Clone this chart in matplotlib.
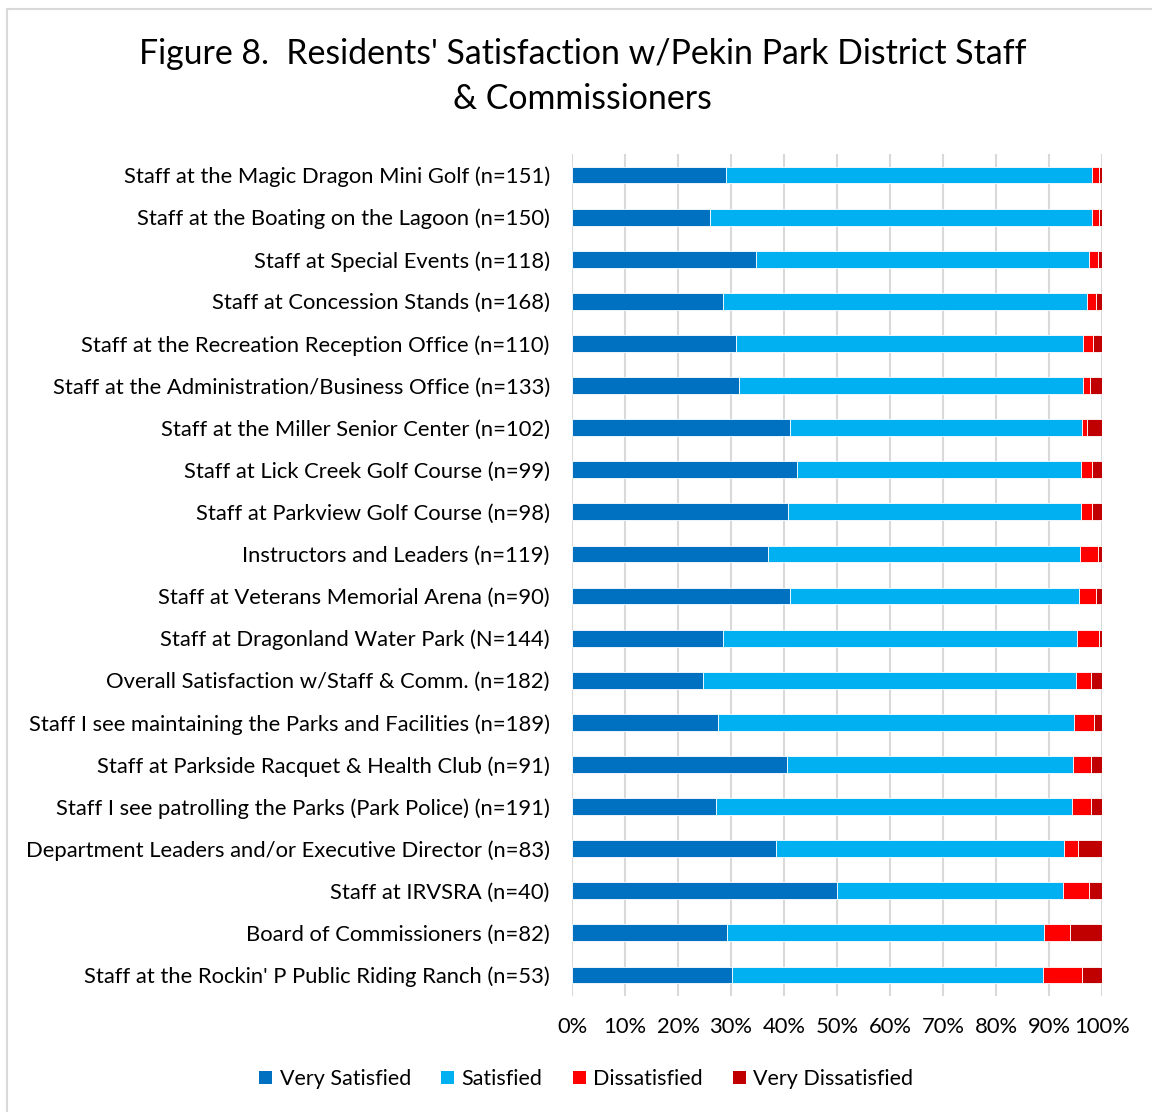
import matplotlib
matplotlib.use("Agg")
import matplotlib.pyplot as plt
from matplotlib.patches import Rectangle, Patch
import numpy as np

categories = [
    "Staff at the Magic Dragon Mini Golf (n=151)",
    "Staff at the Boating on the Lagoon (n=150)",
    "Staff at Special Events (n=118)",
    "Staff at Concession Stands (n=168)",
    "Staff at the Recreation Reception Office (n=110)",
    "Staff at the Administration/Business Office (n=133)",
    "Staff at the Miller Senior Center (n=102)",
    "Staff at Lick Creek Golf Course (n=99)",
    "Staff at Parkview Golf Course (n=98)",
    "Instructors and Leaders (n=119)",
    "Staff at Veterans Memorial Arena (n=90)",
    "Staff at Dragonland Water Park (N=144)",
    "Overall Satisfaction w/Staff & Comm. (n=182)",
    "Staff I see maintaining the Parks and Facilities (n=189)",
    "Staff at Parkside Racquet & Health Club (n=91)",
    "Staff I see patrolling the Parks (Park Police) (n=191)",
    "Department Leaders and/or Executive Director (n=83)",
    "Staff at IRVSRA (n=40)",
    "Board of Commissioners (n=82)",
    "Staff at the Rockin' P Public Riding Ranch (n=53)",
]
very_satisfied = [29.0, 26.0, 34.8, 28.5, 30.9, 31.5, 41.2, 42.5, 40.8, 37.0,
                  41.2, 28.5, 24.8, 27.5, 40.6, 27.2, 38.5, 50.0, 29.3, 30.2]
satisfied = [69.1, 72.1, 62.8, 68.6, 65.6, 64.9, 55.0, 53.6, 55.2, 58.9,
             54.5, 66.7, 70.3, 67.3, 54.0, 67.1, 54.3, 42.6, 59.8, 58.6]
dissatisfied = [1.3, 1.4, 1.6, 1.8, 1.8, 1.3, 1.0, 2.1, 2.1, 3.3,
                3.2, 4.2, 2.9, 3.7, 3.4, 3.7, 2.6, 4.9, 4.9, 7.4]
very_dissatisfied = [0.6, 0.5, 0.8, 1.1, 1.7, 2.3, 2.8, 1.8, 1.9, 0.8,
                     1.1, 0.6, 2.0, 1.5, 2.0, 2.0, 4.6, 2.5, 6.0, 3.8]
series_names = ["Very Satisfied", "Satisfied", "Dissatisfied", "Very Dissatisfied"]
colors = ["#0070C0", "#00B0F0", "#FF0000", "#C00000"]
tick_values = [0, 10, 20, 30, 40, 50, 60, 70, 80, 90, 100]
tick_labels = ["0%", "10%", "20%", "30%", "40%", "50%", "60%", "70%", "80%", "90%", "100%"]
title_line1 = "Figure 8.  Residents' Satisfaction w/Pekin Park District Staff"
title_line2 = "& Commissioners"

plt.rcParams['font.family'] = ['Lato', 'DejaVu Sans']

W, H = 1152, 1112
fig = plt.figure(figsize=(W / 100, H / 100), dpi=100)
ax = fig.add_axes([572 / W, 1 - 996 / H, 530 / W, 842 / H])

data = [very_satisfied, satisfied, dissatisfied, very_dissatisfied]
y = np.arange(len(categories))
left = np.zeros(len(categories))
for vals, c, name in zip(data, colors, series_names):
    vals = np.array(vals)
    ax.barh(y, vals, left=left, height=0.4, color=c, edgecolor="white",
            linewidth=0.6, label=name, zorder=3)
    left += vals

ax.set_xlim(0, 100)
ax.set_ylim(len(categories) - 0.5, -0.5)
ax.set_yticks(y)
ax.set_yticklabels(categories, fontsize=15.8, color="#000000")
ax.set_xticks(tick_values)
ax.set_xticklabels(tick_labels, fontsize=15.8, color="#000000")
ax.tick_params(axis="both", length=0)
ax.tick_params(axis="y", pad=16)
ax.tick_params(axis="x", pad=15)
ax.grid(axis="x", color="#d9d9d9", linewidth=1.5, zorder=0)
for s in ax.spines.values():
    s.set_visible(False)

fig.text(0.506, 1 - 54 / H, title_line1, ha="center", va="center", fontsize=24.4)
fig.text(0.506, 1 - 99 / H, title_line2, ha="center", va="center", fontsize=24.4)

handles = [Patch(facecolor=c, edgecolor="none") for c in colors]
fig.legend(handles, series_names, loc="center", bbox_to_anchor=(0.509, 1 - 1079 / H),
           ncol=4, frameon=False, fontsize=15.5, handlelength=0.6, handleheight=0.6,
           handletextpad=0.35, columnspacing=1.4)

fig.patches.append(Rectangle((7 / W, -0.05), 1.2, 1 - 9 / H + 0.05, transform=fig.transFigure,
                             fill=False, edgecolor="#d9d9d9", linewidth=1.5))

fig.savefig("out.png", dpi=100)
